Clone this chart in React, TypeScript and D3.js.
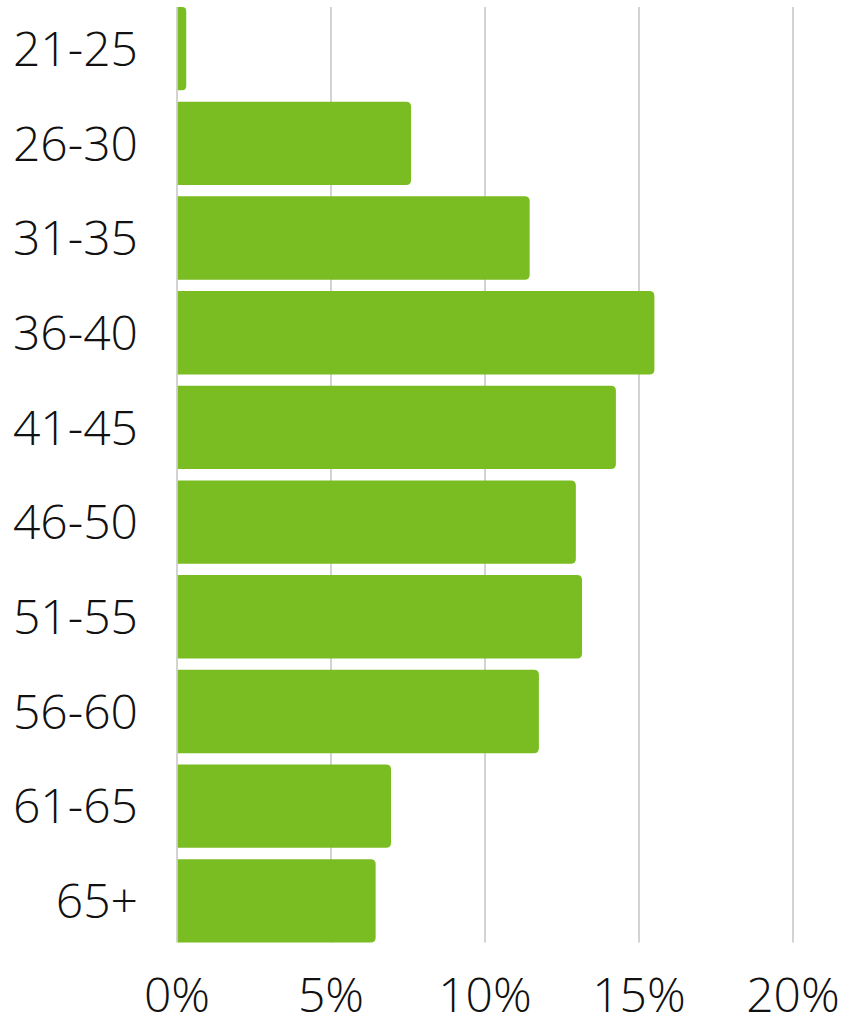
import React, { useEffect, useRef } from 'react'
import * as d3 from 'd3'

// age bands and share of people in each (%)
const ageGroups = ['21-25', '26-30', '31-35', '36-40', '41-45', '46-50', '51-55', '56-60', '61-65', '65+']
const shares = [0.3, 7.6, 11.45, 15.5, 14.25, 12.95, 13.15, 11.75, 6.95, 6.45]
const xTicks = [0, 5, 10, 15, 20]

const W = 842, H = 1019

function App() {
    const ref = useRef<SVGSVGElement>(null)

    useEffect(() => {
        const svg = d3.select(ref.current)
        svg.selectAll('*').remove()

        const left = 177, right = 793, top = 7, bottom = 942.5

        const x = d3.scaleLinear().domain([0, 20]).range([left, right])
        const y = d3.scaleBand<string>()
            .domain(ageGroups)
            .range([top, bottom])
            .paddingInner(0.12)
            .paddingOuter(0)

        const font = '"Open Sans", sans-serif'

        // grid lines
        svg.append('g')
            .selectAll('line')
            .data(xTicks)
            .enter()
            .append('line')
            .attr('x1', d => x(d))
            .attr('x2', d => x(d))
            .attr('y1', top)
            .attr('y2', bottom)
            .attr('stroke', '#c8c8c8')
            .attr('stroke-width', 1.6)

        // bars, rounded on the right end only
        const r = 5
        svg.append('g')
            .selectAll('path')
            .data(shares)
            .enter()
            .append('path')
            .attr('fill', '#7abd23')
            .attr('d', (d, i) => {
                const x0 = x(0) + 0.8
                const x1 = x(d)
                const y0 = y(ageGroups[i])!
                const h = y.bandwidth()
                const rr = Math.min(r, (x1 - x0) / 2)
                return `M${x0},${y0}H${x1 - rr}Q${x1},${y0} ${x1},${y0 + rr}V${y0 + h - rr}Q${x1},${y0 + h} ${x1 - rr},${y0 + h}H${x0}Z`
            })

        // category labels
        svg.append('g')
            .selectAll('text')
            .data(ageGroups)
            .enter()
            .append('text')
            .attr('x', 138)
            .attr('y', d => y(d)! + y.bandwidth() / 2)
            .attr('dy', '0.36em')
            .attr('text-anchor', 'end')
            .attr('font-family', font)
            .attr('font-weight', 300)
            .attr('font-size', 48)
            .attr('fill', '#111')
            .text(d => d)

        // tick labels
        svg.append('g')
            .selectAll('text')
            .data(xTicks)
            .enter()
            .append('text')
            .attr('x', d => x(d))
            .attr('y', 1012)
            .attr('text-anchor', 'middle')
            .attr('font-family', font)
            .attr('font-weight', 300)
            .attr('font-size', 48)
            .attr('fill', '#111')
            .text(d => d + '%')
    }, [])

    return (
        <svg ref={ref} width={W} height={H} style={{ position: 'absolute', left: 0, top: 0 }}></svg>
    )
}

export default App
